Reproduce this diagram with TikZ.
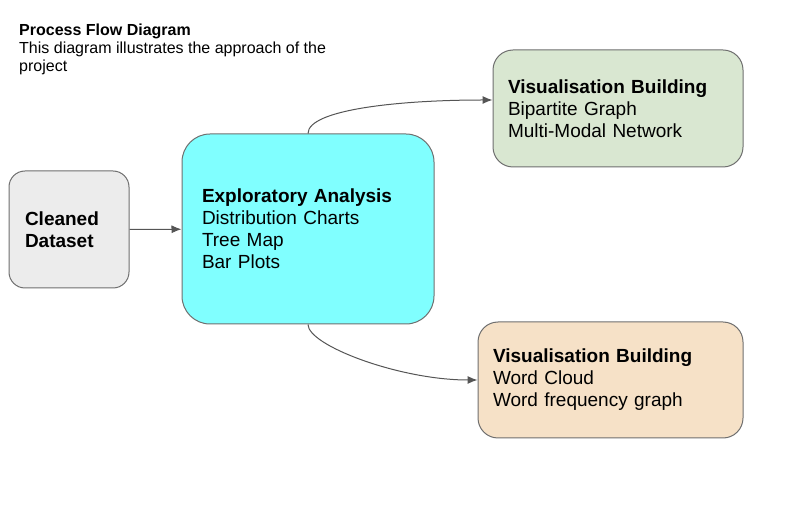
\documentclass[tikz,border=0pt]{standalone}
\usepackage{fontspec}
\setmainfont{Liberation Sans}
\usetikzlibrary{arrows.meta}

\definecolor{boxline}{HTML}{6F6F6F}
\definecolor{arrowgray}{HTML}{555555}
\definecolor{cleanfill}{HTML}{ECECEC}
\definecolor{explfill}{HTML}{80FFFF}
\definecolor{greenfill}{HTML}{D9E7D1}
\definecolor{beigefill}{HTML}{F6E1C7}

\tikzset{
  procbox/.style={draw=boxline,line width=1pt,rectangle,align=left,
    font=\fontsize{19}{22}\selectfont,inner ysep=0pt},
  flow/.style={->,draw=arrowgray,line width=1pt}
}

\begin{document}
\begin{tikzpicture}[x=1pt,y=-1pt,>={Latex[length=10pt,width=8pt]}]
\useasboundingbox (0,0) rectangle (809,510);
% title
\node (title) at (19,24) [anchor=north west,inner sep=0pt,align=left,
  font=\fontsize{16}{18}\selectfont]
  {\textbf{Process Flow Diagram}\\This diagram illustrates the approach of the\\project};
% boxes
\node (clean) at (69,229.5) [procbox,fill=cleanfill,rounded corners=16pt,
  minimum width=120pt,minimum height=117pt,text width=88pt,inner xsep=16pt]
  {\textbf{Cleaned}\\\textbf{Dataset}};
\node (expl) at (308,229) [procbox,fill=explfill,rounded corners=28pt,
  minimum width=252pt,minimum height=190pt,text width=212pt,inner xsep=20pt]
  {\textbf{Exploratory Analysis}\\Distribution Charts\\Tree Map\\Bar Plots};
\node (vtop) at (618,108.5) [procbox,fill=greenfill,rounded corners=20pt,
  minimum width=250pt,minimum height=117pt,text width=220pt,inner xsep=15pt]
  {\textbf{Visualisation Building}\\Bipartite Graph\\Multi-Modal Network};
\node (vbot) at (610.5,380) [procbox,fill=beigefill,rounded corners=20pt,
  minimum width=265pt,minimum height=116pt,text width=235pt,inner xsep=15pt]
  {\textbf{Visualisation Building}\\Word Cloud\\Word frequency graph};
% connectors
\coordinate (vtopin) at ([yshift=8.5pt]vtop.west);
\draw[flow] (clean) -- (expl);
\draw[flow] (expl.north) .. controls ([yshift=24pt]expl.north) and ([xshift=-93pt]vtopin) .. (vtopin);
\draw[flow] (expl.south) .. controls ([yshift=-21pt]expl.south) and ([xshift=-78pt]vbot.west) .. (vbot.west);
\end{tikzpicture}
\end{document}
